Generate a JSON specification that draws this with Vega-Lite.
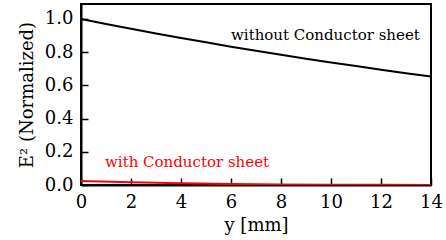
{
  "$schema": "https://vega.github.io/schema/vega-lite/v6.json",
  "autosize": "none",
  "padding": {"left": 81, "top": 4, "right": 15, "bottom": 55},
  "width": 350,
  "height": 181,
  "background": "white",
  "config": {
    "view": {"stroke": "black", "strokeWidth": 2},
    "font": "DejaVu Serif",
    "axis": {
      "domainColor": "black", "domainWidth": 2, "tickColor": "black", "tickWidth": 1.5,
      "tickSize": -7, "grid": false, "labelFont": "DejaVu Serif", "labelFontSize": 18,
      "labelColor": "black", "titleFont": "DejaVu Serif", "titleFontSize": 18,
      "titleFontWeight": "normal", "titleColor": "black"
    }
  },
  "datasets": {
    "curves": [
      {"y": 0, "e2": 1.0, "series": "without"},
      {"y": 1, "e2": 0.970, "series": "without"},
      {"y": 2, "e2": 0.941, "series": "without"},
      {"y": 3, "e2": 0.913, "series": "without"},
      {"y": 4, "e2": 0.885, "series": "without"},
      {"y": 5, "e2": 0.859, "series": "without"},
      {"y": 6, "e2": 0.833, "series": "without"},
      {"y": 7, "e2": 0.808, "series": "without"},
      {"y": 8, "e2": 0.784, "series": "without"},
      {"y": 9, "e2": 0.760, "series": "without"},
      {"y": 10, "e2": 0.738, "series": "without"},
      {"y": 11, "e2": 0.716, "series": "without"},
      {"y": 12, "e2": 0.694, "series": "without"},
      {"y": 13, "e2": 0.673, "series": "without"},
      {"y": 14, "e2": 0.653, "series": "without"},
      {"y": 0, "e2": 0.024, "series": "with"},
      {"y": 2, "e2": 0.017, "series": "with"},
      {"y": 4, "e2": 0.010, "series": "with"},
      {"y": 6, "e2": 0.006, "series": "with"},
      {"y": 8, "e2": 0.003, "series": "with"},
      {"y": 10, "e2": 0.002, "series": "with"},
      {"y": 12, "e2": 0.001, "series": "with"},
      {"y": 14, "e2": 0.0, "series": "with"}
    ],
    "labels": [
      {"y": 6.0, "e2": 0.904, "text": "without Conductor sheet", "series": "without"},
      {"y": 0.96, "e2": 0.139, "text": "with Conductor sheet", "series": "with"}
    ]
  },
  "encoding": {
    "x": {"field": "y", "type": "quantitative", "scale": {"domain": [0, 14], "nice": false},
          "axis": {"values": [0, 2, 4, 6, 8, 10, 12, 14], "title": "y [mm]", "labelPadding": 15, "titlePadding": 5, "labelOverlap": false, "labelFlush": false}},
    "y": {"field": "e2", "type": "quantitative", "scale": {"domain": [0, 1.09], "nice": false, "zero": false},
          "axis": {"values": [0, 0.2, 0.4, 0.6, 0.8, 1.0], "format": ".1f", "title": "E² (Normalized)", "labelPadding": 15, "titlePadding": 8, "labelOverlap": false, "labelFlush": false}},
    "color": {"field": "series", "type": "nominal", "scale": {"domain": ["without", "with"], "range": ["black", "#ff0000"]}, "legend": null}
  },
  "layer": [
    {
      "data": {"name": "curves"},
      "mark": {"type": "line", "strokeWidth": 2, "clip": true}
    },
    {
      "data": {"name": "labels"},
      "mark": {"type": "text", "align": "left", "baseline": "middle", "fontSize": 15, "font": "DejaVu Serif"},
      "encoding": {
        "text": {"field": "text"}
      }
    }
  ]
}
